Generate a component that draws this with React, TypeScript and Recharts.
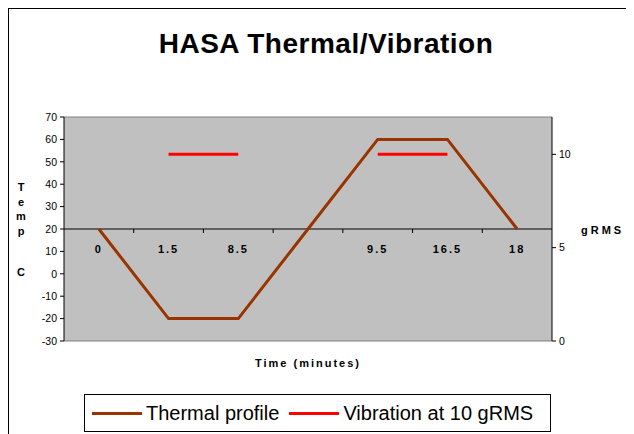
import React from "react";
import {
  ComposedChart,
  Line,
  XAxis,
  YAxis,
  CartesianGrid,
  ReferenceLine,
  Legend,
} from "recharts";

const categories = ["0", "1.5", "8.5", "", "9.5", "16.5", "18"];
const thermalProfile = [20, -20, -20, 20, 60, 60, 20];
const vibration = [null, 10, 10, null, 10, 10, null];
const tempTicks = [-30, -20, -10, 0, 10, 20, 30, 40, 50, 60, 70];
const grmsTicks = [0, 5, 10];
const tempDomain = [-30, 70];
const grmsDomain = [0, 12];
const crossTemp = 20;

const data = categories.map((c, i) => ({
  time: c,
  thermal: thermalProfile[i],
  vib: vibration[i],
}));

const FONT = 'Arial, "Liberation Sans", sans-serif';
const W = 626;
const H = 426;
const XAXIS_H = 10;
const LEGEND_H = 38;
const margin = { top: 109, right: 42, bottom: 45, left: 16 };
const YAXIS_W = 40;
const PLOT_H = H - margin.top - margin.bottom - XAXIS_H - LEGEND_H;
const PLOT_W = W - margin.left - margin.right - 2 * YAXIS_W;

function CategoryTick(props: any) {
  const { x, y, payload, index } = props;
  const crossY =
    y - (PLOT_H * (crossTemp - tempDomain[0])) / (tempDomain[1] - tempDomain[0]);
  const bw = PLOT_W / categories.length;
  return (
    <g>
      {index > 0 && (
        <line
          x1={x - bw / 2}
          x2={x - bw / 2}
          y1={crossY}
          y2={crossY + 4}
          stroke="#000"
          strokeWidth={1}
        />
      )}
      <text
        x={x}
        y={crossY + 24}
        textAnchor="middle"
        fontSize={11}
        fontWeight="bold"
        letterSpacing={2}
        fill="#000"
        fontFamily={FONT}
      >
        {payload.value}
      </text>
    </g>
  );
}

function LegendContent(props: any) {
  const { payload } = props;
  return (
    <div
      style={{
        boxSizing: "border-box",
        width: 467,
        height: LEGEND_H,
        border: "1px solid #000",
        background: "#fff",
        display: "flex",
        alignItems: "center",
        paddingLeft: 7,
        fontFamily: FONT,
        fontSize: 20,
        color: "#000",
      }}
    >
      {(payload || []).map((p: any, i: number) => (
        <div
          key={i}
          style={{ display: "flex", alignItems: "center", marginRight: 10 }}
        >
          <span
            style={{
              display: "inline-block",
              width: 50,
              height: 3,
              background: p.color,
              marginRight: 4,
            }}
          />
          <span>{p.value}</span>
        </div>
      ))}
    </div>
  );
}

const tempLetters = [
  { t: "T", y: 183 },
  { t: "e", y: 197.5 },
  { t: "m", y: 212 },
  { t: "p", y: 226.5 },
  { t: "C", y: 268 },
];

export default function App() {
  return (
    <div style={{ position: "relative", width: W, height: H, fontFamily: FONT }}>
      <ComposedChart width={W} height={H} data={data} margin={margin}>
        <CartesianGrid
          fill="#c0c0c0"
          fillOpacity={1}
          horizontal={false}
          vertical={false}
          yAxisId="left"
        />
        <XAxis
          dataKey="time"
          scale="band"
          height={XAXIS_H}
          tickLine={false}
          tickSize={0}
          tickMargin={0}
          axisLine={{ stroke: "#808080" }}
          tick={(p: any) => <CategoryTick {...p} />}
          interval={0}
        />
        <YAxis
          yAxisId="left"
          width={YAXIS_W}
          domain={tempDomain}
          ticks={tempTicks}
          interval={0}
          tickSize={4}
          tickMargin={3}
          axisLine={{ stroke: "#000" }}
          tickLine={{ stroke: "#000" }}
          tick={{ fill: "#000", fontSize: 10.5 }}
        />
        <YAxis
          yAxisId="right"
          orientation="right"
          width={YAXIS_W}
          domain={grmsDomain}
          ticks={grmsTicks}
          interval={0}
          tickSize={4}
          tickMargin={3}
          axisLine={{ stroke: "#000" }}
          tickLine={{ stroke: "#000" }}
          tick={{ fill: "#000", fontSize: 10.5 }}
        />
        <ReferenceLine yAxisId="left" y={tempDomain[1]} stroke="#808080" />
        <ReferenceLine yAxisId="left" y={crossTemp} stroke="#000" />
        <Line
          yAxisId="left"
          dataKey="thermal"
          name="Thermal profile"
          stroke="#993300"
          strokeWidth={3}
          dot={false}
          activeDot={false}
          isAnimationActive={false}
          type="linear"
        />
        <Line
          yAxisId="right"
          dataKey="vib"
          name="Vibration at 10 gRMS"
          stroke="#ff0000"
          strokeWidth={3}
          dot={false}
          activeDot={false}
          isAnimationActive={false}
          connectNulls={false}
          type="linear"
        />
        <Legend
          content={<LegendContent />}
          wrapperStyle={{ left: 76, top: 386, bottom: "auto", width: 467, height: LEGEND_H }}
        />
      </ComposedChart>
      <svg
        width={W}
        height={H}
        style={{ position: "absolute", left: 0, top: 0, pointerEvents: "none" }}
      >
        <line x1={0.5} y1={0} x2={0.5} y2={H} stroke="#000" />
        <line x1={0} y1={0.5} x2={W} y2={0.5} stroke="#000" />
        <text
          x={318}
          y={45}
          textAnchor="middle"
          fontFamily={FONT}
          fontSize={28}
          fontWeight="bold"
          letterSpacing={0.5}
          fill="#000"
        >
          HASA Thermal/Vibration
        </text>
        {tempLetters.map((l, i) => (
          <text
            key={i}
            x={13}
            y={l.y}
            textAnchor="middle"
            fontFamily={FONT}
            fontSize={11}
            fontWeight="bold"
            fill="#000"
          >
            {l.t}
          </text>
        ))}
        <text
          x={573}
          y={226}
          fontFamily={FONT}
          fontSize={11}
          fontWeight="bold"
          letterSpacing={3}
          fill="#000"
        >
          gRMS
        </text>
        <text
          x={300}
          y={359}
          textAnchor="middle"
          fontFamily={FONT}
          fontSize={11}
          fontWeight="bold"
          letterSpacing={2}
          fill="#000"
        >
          Time (minutes)
        </text>
      </svg>
    </div>
  );
}
